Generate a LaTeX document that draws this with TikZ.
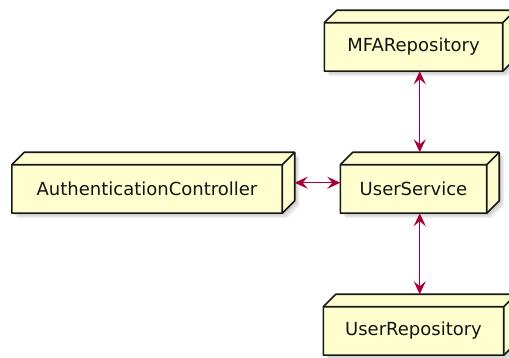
\documentclass[tikz,border=0pt]{standalone}
\usepackage{fontspec}
\setmainfont{DejaVu Sans}
\usetikzlibrary{arrows.meta,backgrounds}
\definecolor{nodefill}{HTML}{FEFECE}
\definecolor{linkcol}{HTML}{A80036}
\definecolor{edgecol}{HTML}{181818}
\tikzset{
  x=1pt, y=1pt,
  front/.style={rectangle, draw=none, minimum height=48pt, inner sep=0pt,
    font=\fontsize{18}{20}\selectfont, text=black!92},
  boxline/.style={draw=edgecol, line width=1.6pt, line join=round, fill=nodefill},
  innerline/.style={draw=edgecol, line width=1.6pt, line join=round},
  link/.style={draw=linkcol, line width=1.4pt,
    {Stealth[length=13pt, width=12pt, inset=5pt]}-{Stealth[length=13pt, width=12pt, inset=5pt]}},
}
% depth of the cuboid faces
\newcommand\dpt{12.5}
% cuboid drawn around a front face node, with a soft shadow
\newcommand\cuboid[1]{%
  \foreach \s/\o in {2/0.07,3.5/0.07,5/0.06}{
    \fill[black, opacity=\o] ([shift={(\s,-\s)}]#1.south west) -- ([shift={(\s,-\s)}]#1.north west)
      -- ([shift={(\dpt+\s,\dpt-\s)}]#1.north west) -- ([shift={(\dpt+\s,\dpt-\s)}]#1.north east)
      -- ([shift={(\dpt+\s,\dpt-\s)}]#1.south east) -- ([shift={(\s,-\s)}]#1.south east) -- cycle;
  }
  \path[boxline] (#1.south west) -- (#1.north west)
    -- ([shift={(\dpt,\dpt)}]#1.north west) -- ([shift={(\dpt,\dpt)}]#1.north east)
    -- ([shift={(\dpt,\dpt)}]#1.south east) -- (#1.south east) -- cycle;
  \path[innerline] (#1.north west) -- (#1.north east) -- (#1.south east)
    (#1.north east) -- ([shift={(\dpt,\dpt)}]#1.north east);
}
\begin{document}
\begin{tikzpicture}
  \useasboundingbox (0,0) rectangle (509,358);

  \node[front, minimum width=178pt] (mfa)  at (413.5,311) {MFARepository};
  \node[front, minimum width=270pt] (auth) at (147,169)   {AuthenticationController};
  \node[front, minimum width=146pt] (us)   at (413.5,169) {UserService};
  \node[front, minimum width=180pt] (ur)   at (413.5,27)  {UserRepository};

  \begin{pgfonlayer}{background}
    \fill[white] (0,0) rectangle (509,358);
    \cuboid{mfa}
    \cuboid{auth}
    \cuboid{us}
    \cuboid{ur}
  \end{pgfonlayer}

  \draw[link] ([xshift=6.25]mfa.south) -- ([shift={(6.25,12.5)}]us.north);
  \draw[link] ([shift={(12.5,6.25)}]auth.east) -- ([yshift=6.25]us.west);
  \draw[link] ([xshift=6.25]us.south) -- ([shift={(6.25,12.5)}]ur.north);
\end{tikzpicture}
\end{document}
